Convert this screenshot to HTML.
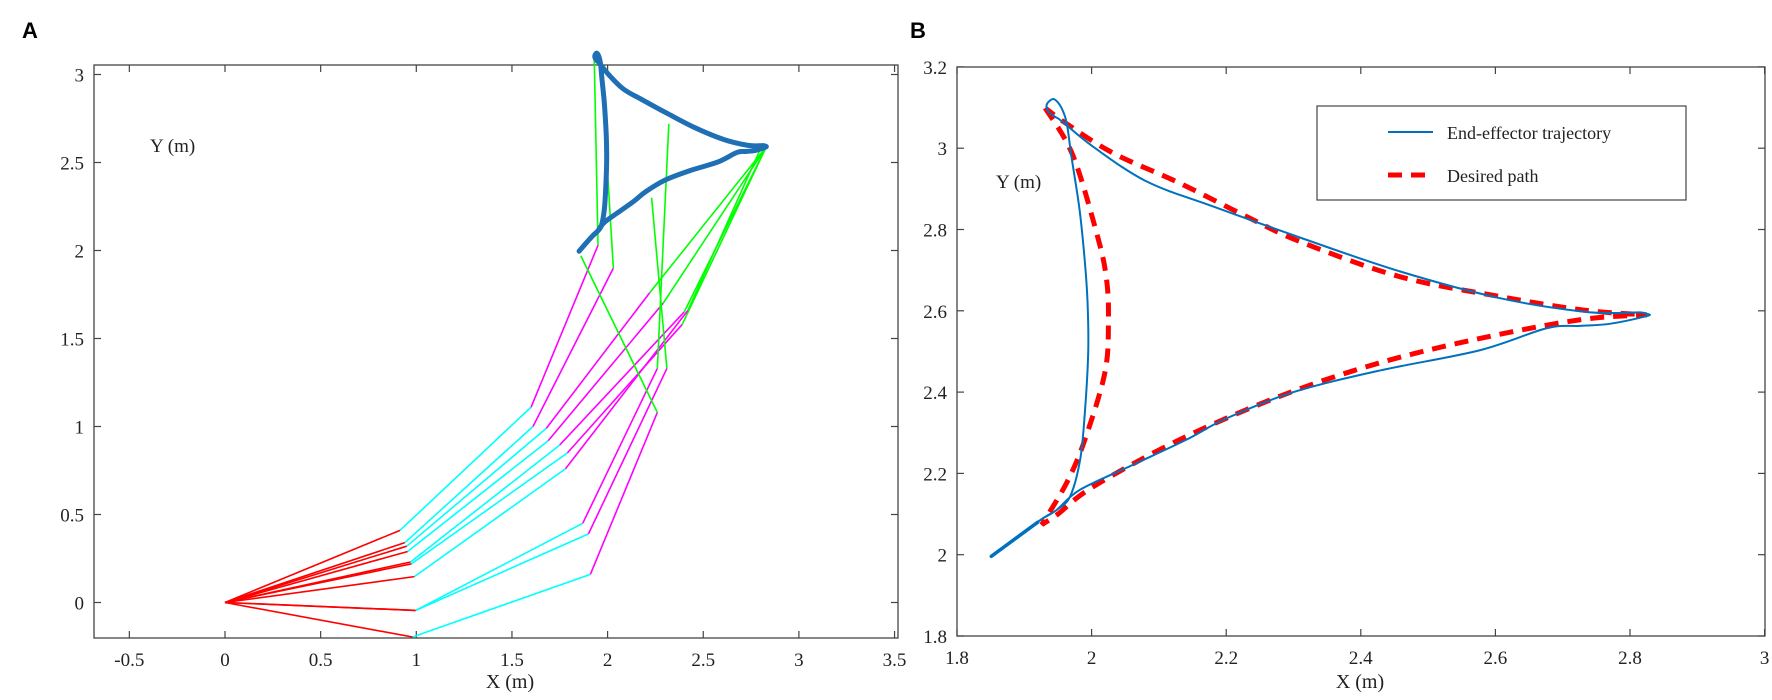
<!DOCTYPE html>
<html><head><meta charset="utf-8"><style>
body{margin:0;background:#fff}
svg text{font-family:"Liberation Serif",serif;fill:#222}
</style></head><body>
<svg id="fig" width="1772" height="695" viewBox="0 0 1772 695" xmlns="http://www.w3.org/2000/svg">
<text x="22" y="38" style="font-family:'Liberation Sans',sans-serif;font-weight:bold;font-size:22px;fill:#000">A</text>
<text x="910" y="38" style="font-family:'Liberation Sans',sans-serif;font-weight:bold;font-size:22px;fill:#000">B</text>
<g id="pa"></g>
<g id="pb"></g>
</svg>
<script>
// ---- data ----
const trajX=[1.851,1.89,1.928,1.948,1.968,1.983,1.99,1.995,1.994,1.99,1.982,1.970,1.963,1.955,1.945,1.938,1.933,1.936,1.945,1.956,2.002,2.082,2.18,2.31,2.458,2.607,2.73,2.79,2.815,2.827,2.825,2.77,2.726,2.676,2.577,2.428,2.30,2.20,2.141,2.06,1.983,1.948,1.928];
const trajY=[1.996,2.045,2.09,2.11,2.143,2.234,2.35,2.5,2.62,2.72,2.85,2.98,3.062,3.1,3.12,3.117,3.105,3.09,3.078,3.066,3.004,2.918,2.857,2.78,2.697,2.631,2.598,2.595,2.596,2.592,2.587,2.568,2.563,2.557,2.503,2.453,2.40,2.335,2.283,2.22,2.16,2.11,2.09];
const pathX=[1.931,1.972,2.009,2.022,2.025,2.02,1.99,1.963,1.926,1.95,2.002,2.131,2.28,2.428,2.577,2.726,2.825,2.73,2.607,2.458,2.31,2.23,2.131,2.032,1.963,1.931];
const pathY=[3.099,2.983,2.782,2.68,2.58,2.45,2.283,2.177,2.074,2.10,2.167,2.283,2.39,2.472,2.532,2.578,2.59,2.602,2.635,2.684,2.77,2.832,2.914,2.988,3.06,3.099];
// arm configurations: joints J1 (red end), J2 (cyan end), J3 (magenta end), E (green end)
const j1x=[0.915,0.94,0.95,0.955,0.97,0.975,0.99,0.997,0.997,0.98];
const j1y=[0.41,0.34,0.32,0.29,0.23,0.22,0.147,-0.045,-0.045,-0.196];
const j2x=[1.60,1.61,1.68,1.69,1.75,1.79,1.78,1.87,1.90,1.91];
const j2y=[1.11,1.0,0.99,0.92,0.895,0.85,0.76,0.45,0.39,0.16];
const j3x=[1.95,2.03,2.22,2.29,2.40,2.39,2.42,2.26,2.31,2.26];
const j3y=[2.03,1.90,1.76,1.70,1.65,1.58,1.66,1.33,1.33,1.08];
const ex=[1.93,1.97,2.83,2.83,2.83,2.83,2.80,2.32,2.23,1.86];
const ey=[3.10,2.98,2.59,2.59,2.59,2.59,2.58,2.72,2.30,1.97];
const aXTicks=[-0.5,0,0.5,1,1.5,2,2.5,3,3.5];
const aXLabels=["-0.5","0","0.5","1","1.5","2","2.5","3","3.5"];
const aYTicks=[0,0.5,1,1.5,2,2.5,3];
const aYLabels=["0","0.5","1","1.5","2","2.5","3"];
const bXTicks=[1.8,2,2.2,2.4,2.6,2.8,3];
const bXLabels=["1.8","2","2.2","2.4","2.6","2.8","3"];
const bYTicks=[1.8,2,2.2,2.4,2.6,2.8,3,3.2];
const bYLabels=["1.8","2","2.2","2.4","2.6","2.8","3","3.2"];
// ---- helpers ----
const NS="http://www.w3.org/2000/svg";
function mk(parent,tag,attrs){const e=document.createElementNS(NS,tag);for(const k in attrs)e.setAttribute(k,attrs[k]);parent.appendChild(e);return e;}
const A={l:94,r:898,t:65,b:638};
const ax=v=>225+(v)*191.3, ay=v=>602.5-v*176;
const B={l:957,r:1765,t:67,b:636};
const bx=v=>957+(v-1.8)*673, by=v=>636-(v-1.8)*406.5;

function axes(g,box,xt,xl,yt,yl,fx,fy,pre){
  const f=mk(g,'rect',{x:box.l,y:box.t,width:box.r-box.l,height:box.b-box.t,fill:'none',stroke:'#444','stroke-width':1.3});
  
  
  xt.forEach((v,i)=>{const x=fx(v);
    mk(g,'line',{x1:x,x2:x,y1:box.b,y2:box.b-7,stroke:'#444','stroke-width':1.2});
    mk(g,'line',{x1:x,x2:x,y1:box.t,y2:box.t+7,stroke:'#444','stroke-width':1.2});
    const t=mk(g,'text',{x:x,y:box.b+28,'text-anchor':'middle','font-size':19});t.textContent=xl[i];
    
    });
  yt.forEach((v,i)=>{const y=fy(v);
    mk(g,'line',{x1:box.l,x2:box.l+7,y1:y,y2:y,stroke:'#444','stroke-width':1.2});
    mk(g,'line',{x1:box.r,x2:box.r-7,y1:y,y2:y,stroke:'#444','stroke-width':1.2});
    const t=mk(g,'text',{x:box.l-10,y:y+7,'text-anchor':'end','font-size':19});t.textContent=yl[i];
    
    });
}
// smooth Catmull-Rom path through points, breaking at cusp indices
function smoothD(xs,ys,fx,fy,cusps){
  const P=xs.map((x,i)=>[fx(x),fy(ys[i])]);
  const breaks=[0].concat(cusps||[]).concat([P.length-1]);
  let d='M'+P[0][0]+','+P[0][1];
  for(let s=0;s<breaks.length-1;s++){
    const a=breaks[s],b=breaks[s+1];
    for(let i=a;i<b;i++){
      const p0=P[Math.max(i-1,a)],p1=P[i],p2=P[i+1],p3=P[Math.min(i+2,b)];
      const c1=[p1[0]+(p2[0]-p0[0])/6,p1[1]+(p2[1]-p0[1])/6];
      const c2=[p2[0]-(p3[0]-p1[0])/6,p2[1]-(p3[1]-p1[1])/6];
      d+=' C'+c1[0]+','+c1[1]+' '+c2[0]+','+c2[1]+' '+p2[0]+','+p2[1];
    }
  }
  return d;
}

// ---- panel A ----
const pa=document.getElementById('pa');
axes(pa,A,aXTicks,aXLabels,aYTicks,aYLabels,ax,ay,'panel-a');
const cols=['#ff0000','#00ffff','#ff00ff','#00ff00'];
j1x.forEach((_,i)=>{
  const px=[0,j1x[i],j2x[i],j3x[i],ex[i]], py=[0,j1y[i],j2y[i],j3y[i],ey[i]];
  for(let k=0;k<4;k++){
    const l=mk(pa,'line',{x1:ax(px[k]),y1:ay(py[k]),x2:ax(px[k+1]),y2:ay(py[k+1]),stroke:cols[k],'stroke-width':1.6});
    
    
  }
});
const ta=mk(pa,'path',{d:smoothD(trajX,trajY,ax,ay,[29]),fill:'none',stroke:'#1f6fb5','stroke-width':5,'stroke-linecap':'round','stroke-linejoin':'round'});


let t=mk(pa,'text',{x:150,y:152,'font-size':19});t.textContent='Y (m)';


t=mk(pa,'text',{x:510,y:688,'font-size':20,'text-anchor':'middle'});t.textContent='X (m)';



// ---- panel B ----
const pb=document.getElementById('pb');
axes(pb,B,bXTicks,bXLabels,bYTicks,bYLabels,bx,by,'panel-b');
const dp=mk(pb,'path',{d:smoothD(pathX,pathY,bx,by,[8,16]),fill:'none',stroke:'#ff0000','stroke-width':5,'stroke-dasharray':'14 9'});


const tb=mk(pb,'path',{d:smoothD(trajX,trajY,bx,by,[29]),fill:'none',stroke:'#0072bd','stroke-width':2,'stroke-linejoin':'round'});


const st=mk(pb,'line',{x1:bx(1.851),y1:by(1.996),x2:bx(1.92),y2:by(2.08),stroke:'#0072bd','stroke-width':3.5,'stroke-linecap':'round'});


t=mk(pb,'text',{x:996,y:188,'font-size':19});t.textContent='Y (m)';


t=mk(pb,'text',{x:1360,y:688,'font-size':20,'text-anchor':'middle'});t.textContent='X (m)';


// legend
const lg=mk(pb,'g',{});


mk(lg,'rect',{x:1317,y:106,width:369,height:94,fill:'#fff',stroke:'#444','stroke-width':1.2});
const l1=mk(lg,'line',{x1:1388,x2:1433,y1:132,y2:132,stroke:'#0072bd','stroke-width':2});


t=mk(lg,'text',{x:1447,y:139,'font-size':18});t.textContent='End-effector trajectory';


const l2=mk(lg,'line',{x1:1388,x2:1433,y1:175,y2:175,stroke:'#ff0000','stroke-width':5,'stroke-dasharray':'14 9'});


t=mk(lg,'text',{x:1447,y:182,'font-size':18});t.textContent='Desired path';


</script>
</body></html>
